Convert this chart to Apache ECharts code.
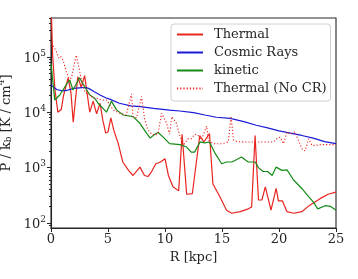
<!DOCTYPE html>
<html>
<head>
<meta charset="utf-8">
<script src="https://cdn.jsdelivr.net/npm/echarts@6/dist/echarts.min.js"></script>
<style>html,body{margin:0;padding:0;background:#fff;}#c{width:358px;height:279px;}</style>
</head>
<body>
<div id="c"></div>
<script>
// ---- data (R in kpc, P/k_b in K/cm^4) ----
const thermalR = [0,0.15,0.35,0.6,0.9,1.1,1.5,1.75,1.95,2.35,2.65,2.95,3.4,3.7,4.0,4.3,4.55,4.8,5.0,5.25,5.5,5.9,6.3,6.8,7.2,7.8,8.2,8.5,8.8,9.2,9.6,10.0,10.3,10.7,11.2,11.5,11.9,12.4,13.05,13.4,13.9,14.2,14.8,15.4,15.85,16.6,17.3,17.6,17.9,18.2,18.5,18.8,19.3,19.75,19.95,20.3,20.7,21.3,22.0,22.7,23.6,24.3,25];
const thermalP = [900000,100000,25100,10000,11200,20000,41700,22400,6600,43700,28200,45700,10000,15800,9300,14500,7100,4200,4400,7900,4800,2700,1260,890,720,1020,720,690,830,1170,1260,1450,720,450,380,4000,330,340,3800,2900,4100,510,300,170,150,160,180,195,3800,260,260,450,170,420,250,250,160,150,160,210,275,330,360];

const crR = [0,0.5,1.0,1.5,2.0,2.5,3.0,3.3,3.8,4.3,4.8,5.2,6.0,7.0,7.8,9.0,10.4,11.3,12.5,13.5,14.5,15.7,16,17,18,19,20,21,22,23,24,25];
const crP = [30900,25700,24300,25100,26900,27500,28000,26900,23400,20400,18200,17000,14500,13000,12600,11700,10900,10500,9800,8900,8100,7700,7500,6700,5800,5200,4600,4200,3800,3400,2950,2700];

const kinR = [0,0.33,0.77,1.35,1.64,1.93,2.5,2.96,3.4,3.84,4.13,4.57,4.86,5.3,5.75,6.33,7.2,7.8,8.38,8.7,9.1,9.4,9.84,10.4,11.3,11.9,12.3,12.6,13.07,13.5,13.9,14.4,14.97,15.4,15.85,16.3,16.7,17.3,17.9,18.2,18.6,19.0,19.4,19.75,20.25,20.7,21.3,22.0,22.6,23.0,23.4,24.05,24.5,25];
const kinP = [76000,16600,20400,31600,38000,25100,41700,28800,20400,17800,14500,11700,10000,15800,11000,8900,8300,6300,4200,3400,4000,4300,3550,2700,2600,2350,1900,1900,2900,2800,2900,1800,1170,1260,1260,1400,1550,1260,1260,1000,850,850,720,1020,890,910,590,420,300,240,180,205,200,170];

const noCrR = [0.05,0.24,0.47,0.7,0.9,1.1,1.35,1.6,1.8,2.08,2.23,2.46,2.7,3.0,3.4,3.7,4.0,4.4,4.87,5.45,6.04,6.6,7.06,7.2,7.5,7.94,8.23,8.5,8.8,9.1,9.4,9.7,10.14,10.4,10.6,11.0,11.3,11.6,12.0,12.3,12.6,12.9,13.2,13.65,13.8,14.2,14.97,15.55,15.8,16.0,16.3,17.0,17.75,18.9,19.5,19.8,20.1,20.4,20.7,21.0,21.4,21.7,22.0,22.3,22.6,22.9,23.9,25];
const noCrP = [178000,151000,123000,93300,100000,81300,53700,39800,41700,81300,107000,61700,35500,22400,20900,17800,17800,16600,16600,11000,9550,8900,21400,8300,7900,19100,7200,4800,4100,3800,4200,9550,6300,4000,8300,6300,3800,2500,3300,3300,4000,3800,3160,5600,3100,2700,2700,2900,8500,3160,2950,2900,2900,2900,2900,3300,3550,2700,4400,4000,4400,3100,2200,2000,3300,2500,2600,2600];

const xTicks = [0,5,10,15,20,25];
const yMajorTicks = [100,1000,10000,100000];
const yMinorTicks = [90,200,300,400,500,600,700,800,900,2000,3000,4000,5000,6000,7000,8000,9000,20000,30000,40000,50000,60000,70000,80000,90000,200000,300000,400000,500000];

const zip = (a,b) => a.map((v,i)=>[v,b[i]]);
const FONT = '"DejaVu Serif", serif';
const AX = '#262626';

const chart = echarts.init(document.getElementById('c'), null, {renderer:'canvas'});
chart.setOption({
  animation:false,
  backgroundColor:'#fff',
  grid:{left:51,right:22,top:18,bottom:51,containLabel:false,outerBoundsMode:'none',
        show:true,borderColor:AX,borderWidth:1.1,backgroundColor:'transparent'},
  legend:{
    orient:'vertical', left:171, top:24,
    padding:[4,4,6,5], itemGap:5, itemWidth:26, itemHeight:14,
    backgroundColor:'rgba(255,255,255,0.8)', borderColor:'#d0d0d0', borderWidth:1, borderRadius:3,
    itemStyle:{opacity:0},
    textStyle:{fontFamily:FONT,fontSize:13,color:'#262626',padding:[0,0,0,6]},
    data:['Thermal','Cosmic Rays','kinetic','Thermal (No CR)']
  },
  xAxis:{
    type:'value', min:0, max:25, interval:5,
    name:'R [kpc]', nameLocation:'middle', nameGap:21,
    nameTextStyle:{fontFamily:FONT,fontSize:13,color:'#262626'},
    axisLine:{show:true,lineStyle:{color:AX,width:1.1}},
    axisTick:{show:true,length:4,lineStyle:{color:AX}},
    axisLabel:{fontFamily:FONT,fontSize:13,color:'#262626',margin:5,customValues:xTicks},
    splitLine:{show:false}
  },
  yAxis:[{
    type:'log', min:81.2, max:501000,
    name:'{a|P / k}{sub|b}{a| [K / cm}{sup|4}{a|]}',
    nameLocation:'middle', nameGap:36, nameRotate:90,
    nameTextStyle:{fontFamily:FONT,fontSize:13,color:'#262626',
      rich:{a:{fontFamily:FONT,fontSize:13,color:'#262626',verticalAlign:'bottom',lineHeight:16},
            sub:{fontFamily:FONT,fontSize:9,color:'#262626',verticalAlign:'bottom',lineHeight:14},
            sup:{fontFamily:FONT,fontSize:9,color:'#262626',verticalAlign:'top',lineHeight:16}}},
    axisLine:{show:true,lineStyle:{color:AX,width:1.1}},
    axisTick:{show:true,length:4,lineStyle:{color:AX},customValues:yMajorTicks},
    axisLabel:{margin:5,customValues:yMajorTicks,
      formatter:function(v){return '{b|10}{s|'+Math.round(Math.log10(v))+'}';},
      rich:{b:{fontFamily:FONT,fontSize:13,color:'#262626',verticalAlign:'bottom',lineHeight:16},
            s:{fontFamily:FONT,fontSize:9,color:'#262626',verticalAlign:'top',lineHeight:16}}},
    splitLine:{show:false}
  },{
    type:'log', min:81.2, max:501000, position:'left',
    axisLine:{show:false},
    axisTick:{show:true,length:2,lineStyle:{color:AX},customValues:yMinorTicks},
    axisLabel:{show:false},
    splitLine:{show:false}
  }],
  series:[
    {name:'Thermal',type:'line',data:zip(thermalR,thermalP),showSymbol:false,symbol:'none',
     lineStyle:{color:'#e8241f',width:1.2},itemStyle:{color:'#e8241f'}},
    {name:'Cosmic Rays',type:'line',data:zip(crR,crP),showSymbol:false,symbol:'none',
     lineStyle:{color:'#1a1ad6',width:1.2},itemStyle:{color:'#1a1ad6'}},
    {name:'kinetic',type:'line',data:zip(kinR,kinP),showSymbol:false,symbol:'none',
     lineStyle:{color:'#168a16',width:1.2},itemStyle:{color:'#168a16'}},
    {name:'Thermal (No CR)',type:'line',data:zip(noCrR,noCrP),showSymbol:false,symbol:'none',
     lineStyle:{color:'#e8241f',width:1.1,type:[1.2,2]},itemStyle:{color:'#e8241f'}}
  ]
});
</script>
</body>
</html>
